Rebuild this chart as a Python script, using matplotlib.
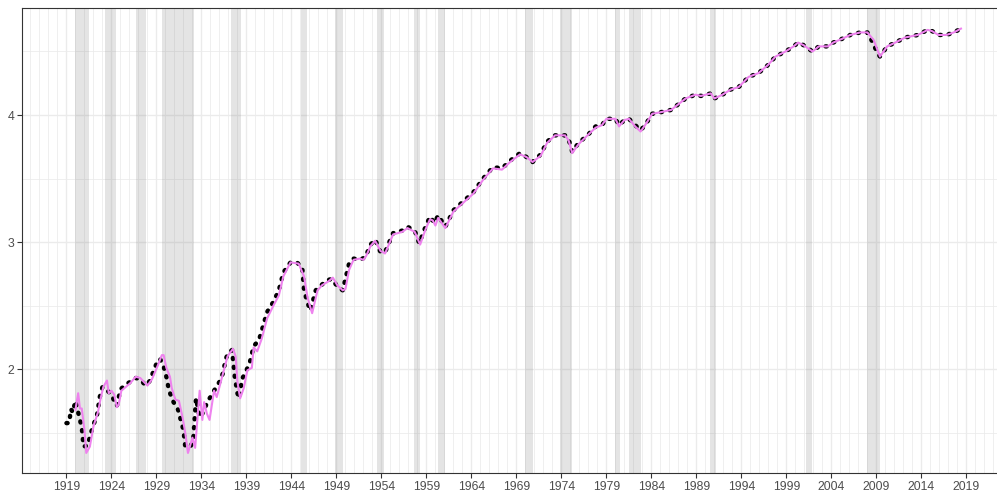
import matplotlib.pyplot as plt
import numpy as np

# log industrial production
yr_act = [1919.0, 1919.3, 1919.5, 1919.7, 1920.0, 1920.7, 1920.9, 1921.4, 1921.6, 1921.9,
          1922.4, 1922.7, 1923.0, 1923.4, 1924.0, 1924.3, 1924.6, 1925.0, 1925.6, 1926.1,
          1926.7, 1927.2, 1927.8, 1928.3, 1928.7, 1929.1, 1929.4, 1929.8, 1930.1, 1930.4,
          1930.9, 1931.4, 1931.7, 1932.0, 1932.2, 1932.8, 1933.1, 1933.4, 1933.8, 1934.2,
          1934.7, 1935.0, 1935.4, 1936.0, 1936.4, 1936.7, 1937.0, 1937.4, 1937.7, 1938.0,
          1938.2, 1938.5, 1939.0, 1939.4, 1939.8, 1940.4, 1941.3, 1942.0, 1942.6, 1943.1,
          1943.9, 1944.6, 1945.2, 1945.4, 1945.8, 1946.1, 1946.7, 1947.3, 1948.0, 1948.5,
          1949.1, 1949.7, 1950.4, 1950.9, 1951.6, 1952.2, 1952.8, 1953.3, 1953.9, 1954.4,
          1955.3, 1956.3, 1956.9, 1957.7, 1958.2, 1958.9, 1959.4, 1959.9, 1960.3, 1961.1,
          1962.0, 1963.1, 1964.2, 1965.3, 1966.4, 1967.4, 1968.3, 1969.4, 1970.1, 1970.8,
          1971.7, 1972.4, 1973.3, 1974.4, 1974.8, 1975.2, 1975.9, 1976.9, 1977.8, 1978.5,
          1979.0, 1980.0, 1980.4, 1981.0, 1981.5, 1982.2, 1982.8, 1983.3, 1984.1, 1984.9,
          1986.2, 1987.8, 1988.9, 1989.5, 1990.6, 1991.0, 1991.9, 1992.8, 1993.7, 1994.8,
          1995.9, 1996.9, 1997.8, 1998.9, 1999.8, 2000.3, 2000.9, 2001.9, 2002.6, 2003.6,
          2004.2, 2005.2, 2006.1, 2007.2, 2008.0, 2008.6, 2009.1, 2009.4, 2010.2, 2011.1,
          2012.2, 2013.6, 2014.7, 2015.2, 2015.9, 2016.8, 2017.6, 2018.4]
actual = [1.575, 1.575, 1.685, 1.66, 1.75, 1.54, 1.39, 1.40, 1.47, 1.54,
          1.64, 1.78, 1.86, 1.84, 1.80, 1.75, 1.71, 1.84, 1.88, 1.90,
          1.93, 1.92, 1.87, 1.91, 1.99, 2.06, 2.08, 2.02, 1.94, 1.83,
          1.74, 1.68, 1.60, 1.52, 1.39, 1.39, 1.46, 1.77, 1.62, 1.66,
          1.75, 1.78, 1.83, 1.90, 1.97, 2.08, 2.13, 2.15, 1.94, 1.81,
          1.77, 1.92, 1.99, 2.06, 2.18, 2.23, 2.45, 2.53, 2.62, 2.76,
          2.84, 2.84, 2.80, 2.62, 2.52, 2.46, 2.62, 2.66, 2.70, 2.71,
          2.65, 2.62, 2.83, 2.87, 2.86, 2.88, 2.98, 3.02, 2.92, 2.92,
          3.07, 3.09, 3.12, 3.09, 2.99, 3.12, 3.20, 3.15, 3.21, 3.12,
          3.25, 3.32, 3.39, 3.50, 3.59, 3.58, 3.64, 3.70, 3.67, 3.63,
          3.69, 3.79, 3.84, 3.84, 3.81, 3.71, 3.78, 3.84, 3.91, 3.92,
          3.97, 3.97, 3.92, 3.96, 3.97, 3.92, 3.88, 3.92, 4.01, 4.02,
          4.04, 4.13, 4.16, 4.15, 4.17, 4.13, 4.16, 4.20, 4.22, 4.30,
          4.33, 4.39, 4.46, 4.50, 4.54, 4.57, 4.55, 4.50, 4.54, 4.54,
          4.57, 4.60, 4.63, 4.65, 4.65, 4.57, 4.49, 4.46, 4.54, 4.57,
          4.61, 4.63, 4.67, 4.66, 4.63, 4.63, 4.65, 4.68]

yr_fit = [1920.0, 1920.3, 1920.5, 1920.7, 1921.0, 1921.2, 1921.6, 1922.0, 1922.5, 1922.8,
          1923.1, 1923.5, 1923.7, 1924.0, 1924.3, 1924.6, 1924.8, 1925.1, 1925.6, 1926.1,
          1926.7, 1927.2, 1927.6, 1928.0, 1928.5, 1929.1, 1929.6, 1929.8, 1930.1, 1930.5,
          1930.7, 1931.1, 1931.5, 1931.9, 1932.2, 1932.5, 1933.0, 1933.3, 1933.8, 1934.1,
          1934.3, 1934.6, 1934.9, 1935.4, 1935.7, 1936.3, 1936.9, 1937.5, 1937.8, 1938.0,
          1938.3, 1938.7, 1939.1, 1939.6, 1939.8, 1940.2, 1940.7, 1941.3, 1942.0, 1942.6,
          1943.1, 1943.9, 1944.8, 1945.4, 1945.8, 1946.3, 1946.9, 1947.4, 1948.1, 1948.6,
          1949.1, 1949.7, 1950.0, 1950.4, 1950.9, 1951.6, 1952.0, 1952.3, 1952.8, 1953.3,
          1953.9, 1954.4, 1955.3, 1956.3, 1956.9, 1957.7, 1958.3, 1958.9, 1959.4, 1959.7,
          1960.0, 1960.3, 1961.1, 1962.0, 1963.1, 1964.2, 1965.3, 1966.4, 1967.4, 1968.3,
          1969.4, 1970.1, 1970.8, 1971.7, 1972.4, 1973.3, 1974.4, 1974.8, 1975.2, 1975.9,
          1976.9, 1977.8, 1978.5, 1979.0, 1980.0, 1980.4, 1981.0, 1981.5, 1982.2, 1982.8,
          1983.3, 1984.1, 1984.9, 1986.2, 1987.8, 1988.9, 1989.5, 1990.6, 1991.0, 1991.9,
          1992.8, 1993.7, 1994.8, 1995.9, 1996.9, 1997.8, 1998.9, 1999.8, 2000.3, 2000.9,
          2001.9, 2002.6, 2003.6, 2004.2, 2005.2, 2006.1, 2007.2, 2008.0, 2008.7, 2009.4,
          2010.2, 2011.1, 2012.2, 2013.6, 2014.7, 2015.2, 2015.9, 2016.8, 2017.6, 2018.4]
fitted = [1.68, 1.81, 1.69, 1.69, 1.52, 1.34, 1.39, 1.55, 1.66, 1.77,
          1.86, 1.91, 1.81, 1.83, 1.80, 1.70, 1.72, 1.83, 1.86, 1.89,
          1.94, 1.93, 1.90, 1.87, 1.92, 2.02, 2.11, 2.11, 2.01, 1.94,
          1.85, 1.76, 1.75, 1.62, 1.50, 1.34, 1.46, 1.38, 1.83, 1.60,
          1.74, 1.65, 1.60, 1.83, 1.78, 1.94, 2.10, 2.16, 2.10, 1.90,
          1.77, 1.85, 1.99, 2.01, 2.17, 2.14, 2.24, 2.40, 2.50, 2.58,
          2.73, 2.84, 2.83, 2.73, 2.56, 2.44, 2.62, 2.66, 2.69, 2.72,
          2.66, 2.62, 2.63, 2.78, 2.86, 2.87, 2.86, 2.89, 2.97, 3.01,
          2.93, 2.91, 3.06, 3.08, 3.11, 3.08, 2.98, 3.10, 3.18, 3.17,
          3.13, 3.19, 3.11, 3.24, 3.31, 3.38, 3.49, 3.58, 3.57, 3.63,
          3.69, 3.67, 3.63, 3.68, 3.78, 3.84, 3.84, 3.80, 3.70, 3.77,
          3.84, 3.90, 3.92, 3.97, 3.97, 3.91, 3.96, 3.97, 3.91, 3.87,
          3.92, 4.01, 4.02, 4.04, 4.13, 4.16, 4.15, 4.17, 4.13, 4.16,
          4.20, 4.22, 4.30, 4.33, 4.39, 4.46, 4.50, 4.54, 4.57, 4.55,
          4.50, 4.54, 4.54, 4.57, 4.60, 4.63, 4.65, 4.65, 4.59, 4.46,
          4.54, 4.57, 4.61, 4.63, 4.67, 4.66, 4.63, 4.63, 4.65, 4.68]

# NBER recessions (decimal years)
rec_start = [1920.0, 1923.33, 1926.75, 1929.58, 1937.33, 1945.08, 1948.83, 1953.5, 1957.58,
             1960.25, 1969.92, 1973.83, 1980.0, 1981.5, 1990.5, 2001.17, 2007.92]
rec_end = [1921.5, 1924.5, 1927.83, 1933.17, 1938.42, 1945.75, 1949.75, 1954.33, 1958.25,
           1961.08, 1970.83, 1975.17, 1980.5, 1982.83, 1991.17, 2001.83, 2009.42]

x_major = list(range(1919, 2020, 5))
x_minor = [y for y in range(1914, 2024) if y not in x_major]
y_major = [2, 3, 4]
y_minor = [1.5, 2.5, 3.5, 4.5]

plt.rcParams['font.family'] = ['Liberation Sans', 'DejaVu Sans']
fig = plt.figure(figsize=(9.97, 4.93), dpi=100)
ax = fig.add_axes([0.0218, 0.040, 0.9863, 0.9432])

for v in x_minor:
    ax.axvline(v, color='#EBEBEB', lw=0.55, zorder=0)
for v in x_major:
    ax.axvline(v, color='#EBEBEB', lw=1.0, zorder=0)
for v in y_minor:
    ax.axhline(v, color='#EBEBEB', lw=0.55, zorder=0)
for v in y_major:
    ax.axhline(v, color='#EBEBEB', lw=1.0, zorder=0)

for s, e in zip(rec_start, rec_end):
    ax.axvspan(s, e, color='#808080', alpha=0.21, lw=0, zorder=1)

ax.plot(yr_act, actual, color='black', lw=3.2, linestyle=(0, (0.25, 1.75)),
        dash_capstyle='round', zorder=2)
ax.plot(yr_fit, fitted, color='#EE82EE', lw=1.5, zorder=3)

ax.set_xlim(1914.03, 2023.3)
ax.set_ylim(1.18, 4.84)
ax.set_xticks(x_major)
ax.set_xticklabels([str(v) for v in x_major])
ax.set_yticks(y_major)
ax.set_yticklabels([str(v) for v in y_major])
ax.tick_params(axis='both', length=3.5, width=0.8, color='#333333',
               labelcolor='#4D4D4D', labelsize=8.8, pad=2)
for side in ['left', 'top', 'bottom']:
    ax.spines[side].set_color('#333333')
    ax.spines[side].set_linewidth(0.8)
ax.spines['right'].set_visible(False)

fig.savefig('out.png', dpi=100)
